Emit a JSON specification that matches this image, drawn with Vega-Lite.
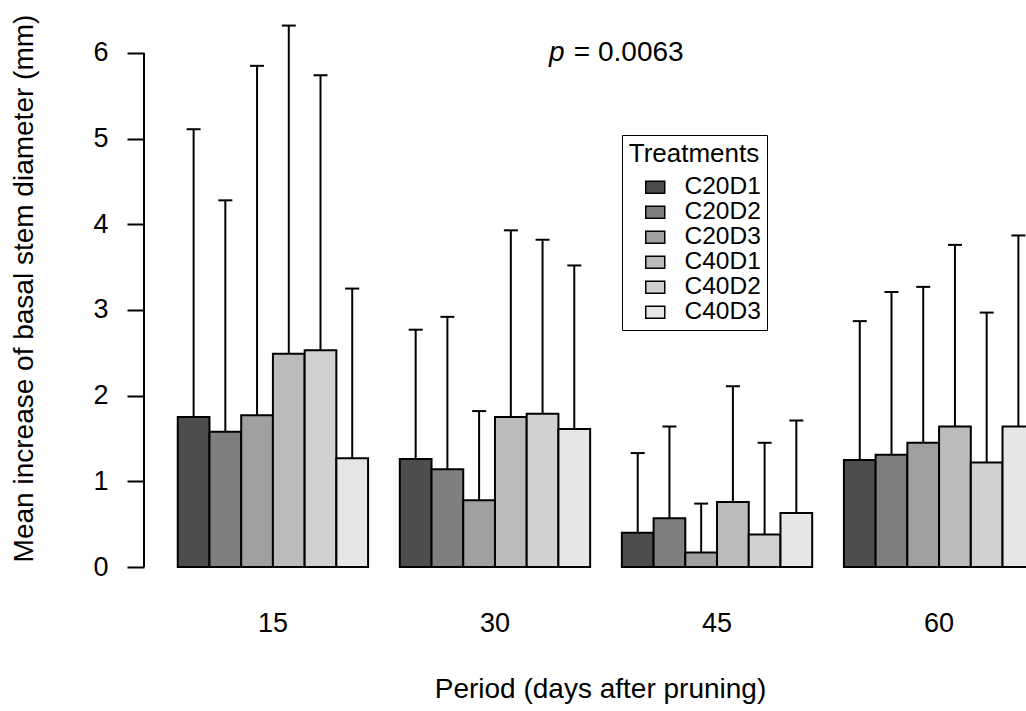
{
  "$schema": "https://vega.github.io/schema/vega-lite/v6.json",
  "width": 882,
  "height": 547,
  "autosize": {"type": "none"},
  "padding": {"left": 144, "top": 20, "right": 0, "bottom": 144},
  "background": "white",
  "config": {
    "view": {"stroke": null},
    "font": "Liberation Sans",
    "axis": {"labelColor": "black", "titleColor": "black", "titleFontWeight": "normal", "grid": false}
  },
  "datasets": {
    "bars": [
      {"period": "15", "treatment": "C20D1", "mean": 1.75, "upper": 5.11},
      {"period": "15", "treatment": "C20D2", "mean": 1.58, "upper": 4.28},
      {"period": "15", "treatment": "C20D3", "mean": 1.77, "upper": 5.85},
      {"period": "15", "treatment": "C40D1", "mean": 2.49, "upper": 6.32},
      {"period": "15", "treatment": "C40D2", "mean": 2.53, "upper": 5.74},
      {"period": "15", "treatment": "C40D3", "mean": 1.27, "upper": 3.25},
      {"period": "30", "treatment": "C20D1", "mean": 1.26, "upper": 2.77},
      {"period": "30", "treatment": "C20D2", "mean": 1.14, "upper": 2.92},
      {"period": "30", "treatment": "C20D3", "mean": 0.78, "upper": 1.82},
      {"period": "30", "treatment": "C40D1", "mean": 1.75, "upper": 3.93},
      {"period": "30", "treatment": "C40D2", "mean": 1.79, "upper": 3.82},
      {"period": "30", "treatment": "C40D3", "mean": 1.61, "upper": 3.52},
      {"period": "45", "treatment": "C20D1", "mean": 0.40, "upper": 1.33},
      {"period": "45", "treatment": "C20D2", "mean": 0.57, "upper": 1.64},
      {"period": "45", "treatment": "C20D3", "mean": 0.17, "upper": 0.74},
      {"period": "45", "treatment": "C40D1", "mean": 0.76, "upper": 2.11},
      {"period": "45", "treatment": "C40D2", "mean": 0.38, "upper": 1.45},
      {"period": "45", "treatment": "C40D3", "mean": 0.63, "upper": 1.71},
      {"period": "60", "treatment": "C20D1", "mean": 1.25, "upper": 2.87},
      {"period": "60", "treatment": "C20D2", "mean": 1.31, "upper": 3.21},
      {"period": "60", "treatment": "C20D3", "mean": 1.45, "upper": 3.27},
      {"period": "60", "treatment": "C40D1", "mean": 1.64, "upper": 3.76},
      {"period": "60", "treatment": "C40D2", "mean": 1.22, "upper": 2.97},
      {"period": "60", "treatment": "C40D3", "mean": 1.64, "upper": 3.87}
    ],
    "note": [{"label": "p = 0.0063"}]
  },
  "data": {"name": "bars"},
  "encoding": {
    "x": {
      "field": "period",
      "type": "nominal",
      "sort": ["15", "30", "45", "60"],
      "scale": {"type": "band", "range": [0, 924], "paddingInner": 0.142857, "paddingOuter": 0.152},
      "axis": {
        "title": "Period (days after pruning)",
        "labelAngle": 0,
        "ticks": false,
        "tickSize": 0,
        "domain": false,
        "labelPadding": 43,
        "labelFontSize": 27,
        "labelBaseline": "top",
        "titleFontSize": 28,
        "titleX": 456,
        "titleY": 122,
        "titleBaseline": "middle",
        "titleAlign": "center"
      }
    }
  },
  "layer": [
    {
      "mark": {"type": "bar", "stroke": "black", "strokeWidth": 2},
      "encoding": {
        "xOffset": {"field": "treatment", "type": "nominal", "scale": {"paddingInner": 0, "paddingOuter": 0}},
        "y": {
          "field": "mean",
          "type": "quantitative",
          "scale": {"domain": [0, 6.385], "nice": false, "zero": true},
          "axis": {
            "title": "Mean increase of basal stem diameter (mm)",
            "values": [0, 1, 2, 3, 4, 5, 6],
            "format": "d",
            "domain": false,
            "tickSize": 17,
            "tickWidth": 2,
            "tickColor": "black",
            "labelFontSize": 27,
            "labelPadding": 19,
            "labelFlush": false,
            "labelOverlap": false,
            "titleFontSize": 28,
            "titleX": -120,
            "titleY": 268,
            "titleAngle": -90,
            "titleBaseline": "middle",
            "titleAlign": "center"
          }
        },
        "fill": {
          "field": "treatment",
          "type": "nominal",
          "scale": {
            "domain": ["C20D1", "C20D2", "C20D3", "C40D1", "C40D2", "C40D3"],
            "range": ["#4D4D4D", "#7F7F7F", "#A0A0A0", "#BBBBBB", "#D1D1D1", "#E6E6E6"]
          },
          "legend": {
            "title": "Treatments",
            "orient": "none",
            "legendX": 478,
            "legendY": 115,
            "strokeColor": "black",
            "padding": 6,
            "titleFontSize": 26,
            "titleFontWeight": "normal",
            "titleColor": "black",
            "titleAnchor": "middle",
            "titlePadding": 8,
            "labelFontSize": 24.5,
            "labelColor": "black",
            "symbolType": "M-1,-0.63L1,-0.63L1,0.63L-1,0.63Z",
            "symbolSize": 361,
            "symbolStrokeColor": "black",
            "symbolStrokeWidth": 1.5,
            "symbolOpacity": 1,
            "symbolOffset": 15,
            "labelOffset": 17,
            "rowPadding": 0
          }
        }
      }
    },
    {
      "mark": {"type": "rule", "color": "black", "strokeWidth": 2},
      "encoding": {
        "xOffset": {"field": "treatment", "type": "nominal"},
        "y": {"field": "mean", "type": "quantitative"},
        "y2": {"field": "upper"}
      }
    },
    {
      "mark": {"type": "tick", "color": "black", "size": 14, "thickness": 2, "orient": "horizontal", "opacity": 1},
      "encoding": {
        "xOffset": {"field": "treatment", "type": "nominal"},
        "y": {"field": "upper", "type": "quantitative"}
      }
    },
    {
      "data": {"name": "note"},
      "mark": {"type": "rule", "color": "black", "strokeWidth": 2},
      "encoding": {
        "x": {"value": 0},
        "y": {"datum": 0},
        "y2": {"datum": 6}
      }
    },
    {
      "data": {"name": "note"},
      "mark": {"type": "text", "text": "p", "fontSize": 28, "fontStyle": "italic", "align": "center", "baseline": "middle", "dx": -65, "color": "black"},
      "encoding": {
        "x": {"datum": "45", "bandPosition": 0},
        "y": {"datum": 6}
      }
    },
    {
      "data": {"name": "note"},
      "mark": {"type": "text", "text": "= 0.0063", "fontSize": 28, "align": "left", "baseline": "middle", "dx": -48, "color": "black"},
      "encoding": {
        "x": {"datum": "45", "bandPosition": 0},
        "y": {"datum": 6}
      }
    }
  ]
}
